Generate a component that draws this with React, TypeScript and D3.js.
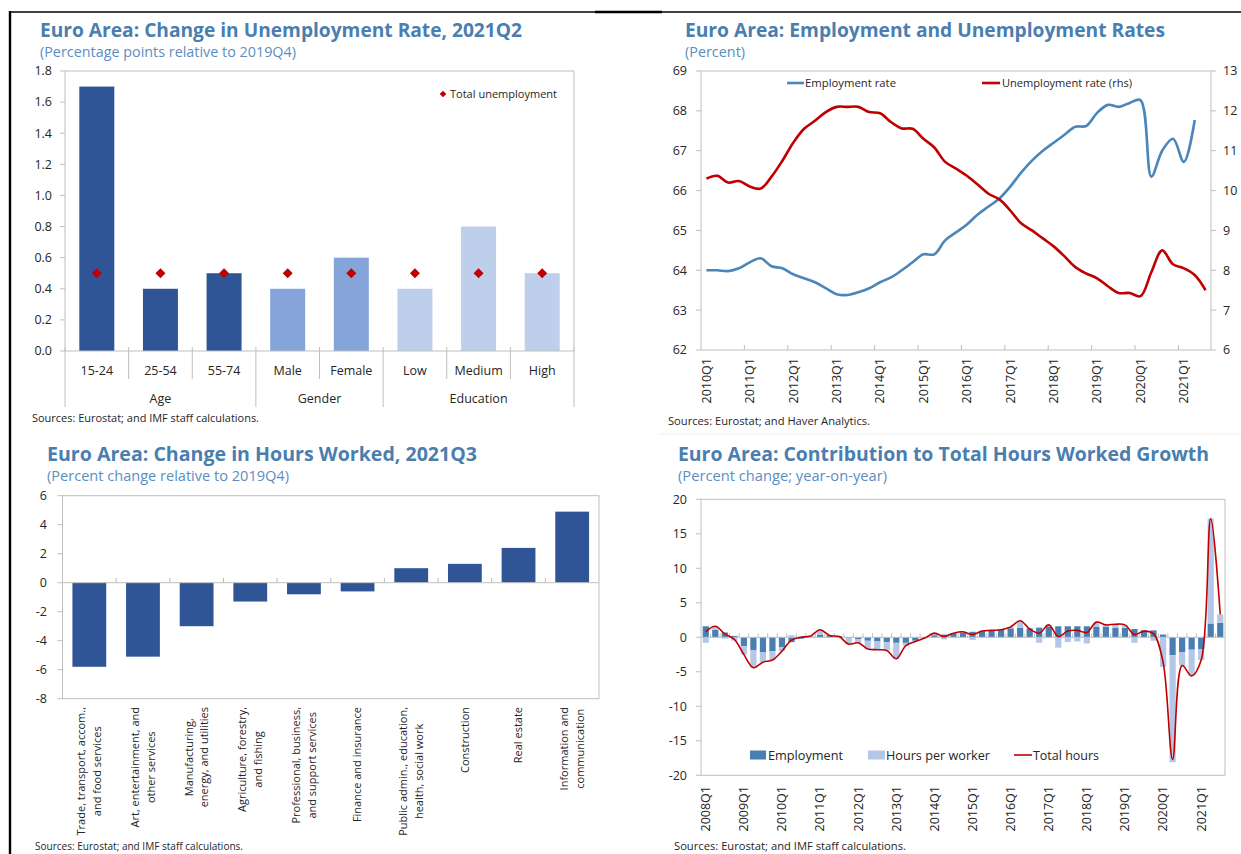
import React from 'react';
import * as d3 from 'd3';

const FONT = '"Open Sans", "Noto Sans", sans-serif';
const TITLE = '#4A7EAF';
const SUB = '#5B8DC2';
const AXIS = '#BFBFBF';
const INK = '#262626';
const RED = '#C00000';

// ---- Panel 1: change in unemployment rate
const p1Categories = ['15-24', '25-54', '55-74', 'Male', 'Female', 'Low', 'Medium', 'High'];
const p1GroupOf = ['Age', 'Age', 'Age', 'Gender', 'Gender', 'Education', 'Education', 'Education'];
const p1GroupNames = ['Age', 'Gender', 'Education'];
const p1Change = [1.7, 0.4, 0.5, 0.4, 0.6, 0.4, 0.8, 0.5];
const p1Total = [0.5, 0.5, 0.5, 0.5, 0.5, 0.5, 0.5, 0.5];
const p1Ticks = [0, 0.2, 0.4, 0.6, 0.8, 1.0, 1.2, 1.4, 1.6, 1.8];
const p1Colors: Record<string, string> = { Age: '#2F5597', Gender: '#84A4DA', Education: '#BDCFEB' };

// ---- Panel 2: employment and unemployment rates, 2010Q1 onwards
const p2Years = ['2010Q1', '2011Q1', '2012Q1', '2013Q1', '2014Q1', '2015Q1', '2016Q1', '2017Q1', '2018Q1', '2019Q1', '2020Q1', '2021Q1'];
const p2Employment = [
  64.0, 64.0, 63.98, 64.05, 64.2, 64.3, 64.1, 64.05,
  63.9, 63.8, 63.7, 63.55, 63.4, 63.38, 63.45, 63.55,
  63.7, 63.82, 64.0, 64.2, 64.4, 64.4, 64.75, 64.95,
  65.15, 65.4, 65.6, 65.8, 66.1, 66.45, 66.75, 67.0,
  67.2, 67.4, 67.6, 67.62, 67.95, 68.15, 68.1, 68.2,
  68.27, 66.35, 67.0, 67.3, 66.72, 67.77,
];
const p2Unemployment = [
  10.3, 10.37, 10.2, 10.24, 10.1, 10.05, 10.35, 10.75,
  11.2, 11.55, 11.75, 11.97, 12.1, 12.1, 12.1, 11.97,
  11.94, 11.72, 11.56, 11.55, 11.3, 11.08, 10.72, 10.55,
  10.37, 10.15, 9.92, 9.78, 9.5, 9.18, 9.0, 8.8,
  8.6, 8.35, 8.08, 7.92, 7.8, 7.6, 7.43, 7.43,
  7.35, 7.95, 8.5, 8.15, 8.05, 7.88, 7.5,
];
const p2LeftTicks = [62, 63, 64, 65, 66, 67, 68, 69];
const p2RightTicks = [6, 7, 8, 9, 10, 11, 12, 13];

// ---- Panel 3: change in hours worked by sector
const p3Sectors = [
  ['Trade, transport, accom.,', 'and food services'],
  ['Art, entertainment, and', 'other services'],
  ['Manufacturing,', 'energy, and utilities'],
  ['Agriculture, forestry,', 'and fishing'],
  ['Professional, business,', 'and support services'],
  ['Finance and insurance'],
  ['Public admin., education,', 'health, social work'],
  ['Construction'],
  ['Real estate'],
  ['Information and', 'communication'],
];
const p3Change = [-5.8, -5.1, -3.0, -1.3, -0.8, -0.6, 1.0, 1.3, 2.4, 4.9];
const p3Ticks = [-8, -6, -4, -2, 0, 2, 4, 6];

// ---- Panel 4: contribution to total hours worked growth, 2008Q1 onwards
const p4Years = ['2008Q1', '2009Q1', '2010Q1', '2011Q1', '2012Q1', '2013Q1', '2014Q1', '2015Q1', '2016Q1', '2017Q1', '2018Q1', '2019Q1', '2020Q1', '2021Q1'];
const p4Employment = [
  1.6, 1.1, 0.7, 0.2, -1.3, -1.9, -2.2, -2.0,
  -1.4, -0.7, -0.2, 0.1, 0.4, 0.3, 0.2, -0.1,
  -0.3, -0.5, -0.6, -0.7, -0.8, -0.8, -0.5, -0.1,
  0.3, 0.4, 0.6, 0.7, 0.8, 0.9, 1.0, 1.1,
  1.3, 1.4, 1.3, 1.4, 1.5, 1.6, 1.6, 1.6,
  1.6, 1.5, 1.5, 1.4, 1.4, 1.2, 1.0, 1.0,
  0.4, -2.6, -2.2, -1.8, -1.7, 2.0, 2.1,
];
const p4HoursPerWorker = [
  -0.8, 0.5, -0.2, -0.5, -1.2, -2.5, -1.4, -1.3,
  -0.6, 0.3, 0.2, 0.1, 0.6, 0.0, -0.1, -0.9,
  -0.5, -1.2, -1.2, -1.2, -2.3, -0.4, -0.1, 0.0,
  0.3, -0.3, 0.0, 0.1, -0.4, 0.0, 0.0, 0.0,
  0.2, 1.0, -0.1, -0.8, 0.3, -1.5, -0.7, -0.6,
  -0.9, 0.7, 0.3, 0.5, 0.4, -0.8, -0.1, -0.5,
  -4.3, -15.5, -1.9, -3.8, -1.6, 15.2, 1.2,
];
const p4TotalHours = [
  0.8, 1.6, 0.5, -0.3, -2.5, -4.4, -3.6, -3.3,
  -2.0, -0.4, 0.0, 0.2, 1.1, 0.25, 0.1, -1.0,
  -0.8, -1.7, -1.8, -1.9, -3.1, -1.2, -0.6, -0.1,
  0.6, 0.1, 0.6, 0.8, 0.4, 0.9, 1.0, 1.1,
  1.5, 2.4, 1.2, 0.6, 1.8, 0.1, 0.9, 1.0,
  0.7, 2.2, 1.8, 1.9, 1.8, 0.4, 0.9, 0.5,
  -3.6, -17.7, -4.1, -5.6, -3.3, 17.2, 3.3,
];
const p4Ticks = [-20, -15, -10, -5, 0, 5, 10, 15, 20];

let measureCtx: CanvasRenderingContext2D | null = null;
function textWidth(s: string, size: number) {
  if (!measureCtx) measureCtx = document.createElement('canvas').getContext('2d');
  if (!measureCtx) return s.length * size * 0.5;
  measureCtx.font = `${size}px "Open Sans"`;
  return measureCtx.measureText(s).width;
}

const Fit = ({ x, y, w, size, fill = INK, weight = 400, children }: any) => (
  <text x={x} y={y} fontSize={size} fill={fill} fontWeight={weight}
    textLength={w} lengthAdjust="spacingAndGlyphs">{children}</text>
);

function UnemploymentPanel() {
  const x = d3.scaleBand().domain(p1Categories).range([65, 574]).paddingInner(0.45).paddingOuter(0.225);
  const y = d3.scaleLinear().domain([0, 1.8]).range([351, 71]);
  const step = x.step();
  const x0 = x.range()[0];
  const bounds = d3.range(p1Categories.length + 1).map(k => x0 + k * step);
  const groupStarts = new Set(p1GroupNames.map(g => p1GroupOf.indexOf(g)).concat([p1Categories.length]));
  const diamond = d3.symbol(d3.symbolSquare, 50)();
  const smallDiamond = d3.symbol(d3.symbolSquare, 22)();
  return (
    <g>
      <Fit x={40} y={37} w={482} size={19} fill={TITLE} weight={700}>Euro Area: Change in Unemployment Rate, 2021Q2</Fit>
      <Fit x={40} y={57} w={256} size={14} fill={SUB}>(Percentage points relative to 2019Q4)</Fit>
      <path d={`M65,71H574V351`} fill="none" stroke={AXIS} />
      <line x1={65} x2={65} y1={71} y2={351} stroke={AXIS} />
      {p1Ticks.map(t => (
        <g key={t}>
          <line x1={60} x2={65} y1={y(t)} y2={y(t)} stroke={AXIS} />
          <text x={52} y={y(t)} dy="0.35em" textAnchor="end" fontSize={12.5} fill={INK}>{t.toFixed(1)}</text>
        </g>
      ))}
      {p1Categories.map((c, i) => (
        <rect key={c} x={x(c)} width={x.bandwidth()} y={y(p1Change[i])} height={y(0) - y(p1Change[i])} fill={p1Colors[p1GroupOf[i]]} />
      ))}
      <line x1={65} x2={574} y1={y(0)} y2={y(0)} stroke={AXIS} />
      {bounds.map((b, k) => (
        <line key={k} x1={b} x2={b} y1={y(0) - 4} y2={groupStarts.has(k) ? 407 : 379} stroke={AXIS} />
      ))}
      {p1Categories.map((c, i) => (
        <g key={c}>
          <path d={diamond} transform={`translate(${x(c)! + x.bandwidth() / 2},${y(p1Total[i])}) rotate(45)`} fill={RED} />
          <text x={x(c)! + x.bandwidth() / 2} y={375} textAnchor="middle" fontSize={12.5} fill={INK}>{c}</text>
        </g>
      ))}
      {p1GroupNames.map(g => {
        const a = p1GroupOf.indexOf(g);
        const b = p1GroupOf.lastIndexOf(g) + 1;
        return <text key={g} x={(bounds[a] + bounds[b]) / 2} y={403} textAnchor="middle" fontSize={12.5} fill={INK}>{g}</text>;
      })}
      <path d={smallDiamond} transform={`translate(443,94) rotate(45)`} fill={RED} />
      <Fit x={450} y={98} w={107} size={11}>Total unemployment</Fit>
      <Fit x={32} y={422} w={227} size={11}>Sources: Eurostat; and IMF staff calculations.</Fit>
    </g>
  );
}

function RatesPanel() {
  const x = d3.scaleLinear().domain([-0.5, 46.5]).range([701, 1211]);
  const yL = d3.scaleLinear().domain([62, 69]).range([350, 71]);
  const yR = d3.scaleLinear().domain([6, 13]).range([350, 71]);
  const lineL = d3.line<number>().x((_, i) => x(i)).y(d => yL(d)).curve(d3.curveCatmullRom.alpha(0.5));
  const lineR = d3.line<number>().x((_, i) => x(i)).y(d => yR(d)).curve(d3.curveCatmullRom.alpha(0.5));
  return (
    <g>
      <Fit x={685} y={37} w={480} size={19} fill={TITLE} weight={700}>Euro Area: Employment and Unemployment Rates</Fit>
      <Fit x={685} y={57} w={60} size={14} fill={SUB}>(Percent)</Fit>
      <rect x={701} y={71} width={510} height={279} fill="none" stroke={AXIS} />
      {p2LeftTicks.map(t => (
        <g key={t}>
          <line x1={696} x2={701} y1={yL(t)} y2={yL(t)} stroke={AXIS} />
          <text x={687} y={yL(t)} dy="0.35em" textAnchor="end" fontSize={12.5} fill={INK}>{t}</text>
        </g>
      ))}
      {p2RightTicks.map(t => (
        <g key={t}>
          <line x1={1211} x2={1216} y1={yR(t)} y2={yR(t)} stroke={AXIS} />
          <text x={1223} y={yR(t)} dy="0.35em" fontSize={12.5} fill={INK}>{t}</text>
        </g>
      ))}
      {p2Years.map((lab, k) => (
        <g key={lab}>
          {k > 0 && <line x1={x(4 * k - 0.5)} x2={x(4 * k - 0.5)} y1={345} y2={350} stroke={AXIS} />}
          <text transform={`translate(${x(4 * k)},358) rotate(-90)`} textAnchor="end" dy="0.35em" fontSize={12.5} fill={INK}>{lab}</text>
        </g>
      ))}
      <path d={lineL(p2Employment)!} fill="none" stroke="#4A86B9" strokeWidth={2.6} />
      <path d={lineR(p2Unemployment)!} fill="none" stroke={RED} strokeWidth={2.6} />
      <line x1={787} x2={804} y1={83} y2={83} stroke="#4A86B9" strokeWidth={2.6} />
      <Fit x={805} y={87} w={91} size={11.5}>Employment rate</Fit>
      <line x1={982} x2={1000} y1={83} y2={83} stroke={RED} strokeWidth={2.6} />
      <Fit x={1002} y={87} w={130} size={11.5}>Unemployment rate (rhs)</Fit>
      <Fit x={668} y={425} w={202} size={11}>Sources: Eurostat; and Haver Analytics.</Fit>
    </g>
  );
}

function HoursPanel() {
  const idx = p3Sectors.map((_, i) => String(i));
  const x = d3.scaleBand().domain(idx).range([62.5, 599]).paddingInner(0.37).paddingOuter(0.185);
  const y = d3.scaleLinear().domain([-8, 6]).range([698.7, 495.7]);
  const step = x.step();
  const fs = 11;
  return (
    <g>
      <Fit x={47} y={461} w={430} size={19} fill={TITLE} weight={700}>Euro Area: Change in Hours Worked, 2021Q3</Fit>
      <Fit x={47} y={481} w={242} size={14} fill={SUB}>(Percent change relative to 2019Q4)</Fit>
      <rect x={62.5} y={495.7} width={536.5} height={203} fill="none" stroke={AXIS} />
      {p3Ticks.map(t => (
        <g key={t}>
          <line x1={57.5} x2={62.5} y1={y(t)} y2={y(t)} stroke={AXIS} />
          <text x={47} y={y(t)} dy="0.35em" textAnchor="end" fontSize={12.5} fill={INK}>{t}</text>
        </g>
      ))}
      {p3Change.map((v, i) => (
        <rect key={i} x={x(String(i))} width={x.bandwidth()} y={y(Math.max(0, v))} height={Math.abs(y(v) - y(0))} fill="#2F5597" />
      ))}
      <line x1={62.5} x2={599} y1={y(0)} y2={y(0)} stroke={AXIS} />
      {d3.range(1, p3Sectors.length).map(k => (
        <line key={k} x1={62.5 + k * step} x2={62.5 + k * step} y1={y(0) - 5} y2={y(0)} stroke={AXIS} />
      ))}
      {p3Sectors.map((lines, i) => {
        const cx = x(String(i))! + x.bandwidth() / 2;
        const len = Math.max(...lines.map(l => textWidth(l, fs)));
        const cy = 707 + len / 2;
        return lines.map((l, j) => {
          const off = lines.length === 1 ? 0 : (j === 0 ? -7.8 : 7.8);
          return (
            <text key={i + '-' + j} transform={`translate(${cx + off},${cy}) rotate(-90)`} textAnchor="middle" dy="0.35em" fontSize={fs} fill={INK}>{l}</text>
          );
        });
      })}
      <Fit x={35} y={850} w={208} size={11}>Sources: Eurostat; and IMF staff calculations.</Fit>
    </g>
  );
}

function ContributionPanel() {
  const x = d3.scaleLinear().domain([-0.5, 54.5]).range([701, 1225]);
  const y = d3.scaleLinear().domain([-20, 20]).range([775.3, 499.3]);
  const rows = p4Employment.map((e, i) => ({ emp: e, hpw: p4HoursPerWorker[i] }));
  const stacked = d3.stack<any>().keys(['emp', 'hpw']).offset(d3.stackOffsetDiverging)(rows);
  const colors: Record<string, string> = { emp: '#4A7FB2', hpw: '#B4C7E7' };
  const bw = 6.2;
  const total = d3.line<number>().x((_, i) => x(i)).y(d => y(d)).curve(d3.curveCatmullRom.alpha(0.5));
  return (
    <g>
      <line x1={660} x2={1241} y1={434} y2={434} stroke="#EEEEEE" />
      <Fit x={678} y={461} w={531} size={19} fill={TITLE} weight={700}>Euro Area: Contribution to Total Hours Worked Growth</Fit>
      <Fit x={678} y={481} w={209} size={14} fill={SUB}>(Percent change; year-on-year)</Fit>
      <rect x={701} y={499.3} width={524} height={276} fill="none" stroke={AXIS} />
      {p4Ticks.map(t => (
        <g key={t}>
          <line x1={696} x2={701} y1={y(t)} y2={y(t)} stroke={AXIS} />
          <text x={687} y={y(t)} dy="0.35em" textAnchor="end" fontSize={12.5} fill={INK}>{t}</text>
        </g>
      ))}
      {stacked.map(s => (
        <g key={s.key} fill={colors[s.key]}>
          {s.map((d, i) => (
            <rect key={i} x={x(i) - bw / 2} width={bw} y={y(Math.max(d[0], d[1]))} height={Math.abs(y(d[0]) - y(d[1]))} />
          ))}
        </g>
      ))}
      <line x1={701} x2={1225} y1={y(0)} y2={y(0)} stroke={AXIS} />
      {d3.range(1, p4Employment.length).map(k => (
        <line key={k} x1={x(k - 0.5)} x2={x(k - 0.5)} y1={y(0) - 4} y2={y(0)} stroke={AXIS} />
      ))}
      <path d={total(p4TotalHours)!} fill="none" stroke={RED} strokeWidth={1.6} />
      {p4Years.map((lab, k) => (
        <text key={lab} transform={`translate(${x(4 * k)},786) rotate(-90)`} textAnchor="end" dy="0.35em" fontSize={12.5} fill={INK}>{lab}</text>
      ))}
      <rect x={750} y={750.5} width={16} height={9} fill={colors.emp} />
      <Fit x={768} y={759.5} w={75} size={12.5}>Employment</Fit>
      <rect x={868} y={750.5} width={17} height={9} fill={colors.hpw} />
      <Fit x={886} y={759.5} w={104} size={12.5}>Hours per worker</Fit>
      <line x1={1014} x2={1032} y1={755} y2={755} stroke={RED} strokeWidth={1.6} />
      <Fit x={1033} y={759.5} w={66} size={12.5}>Total hours</Fit>
      <Fit x={674} y={850} w={232} size={11}>Sources: Eurostat; and IMF staff calculations.</Fit>
    </g>
  );
}

export default function App() {
  return (
    <svg width={1241} height={854} fontFamily={FONT}
      style={{ position: 'absolute', left: 0, top: 0, background: '#fff' }}>
      <rect width={1241} height={854} fill="#fff" />
      <line x1={10} x2={10} y1={11} y2={854} stroke="#000" strokeWidth={2.4} />
      <line x1={10} x2={1241} y1={12} y2={12} stroke="#000" strokeWidth={1.4} />
      <line x1={595} x2={662} y1={12} y2={12} stroke="#000" strokeWidth={2.6} />
      <UnemploymentPanel />
      <RatesPanel />
      <HoursPanel />
      <ContributionPanel />
    </svg>
  );
}
